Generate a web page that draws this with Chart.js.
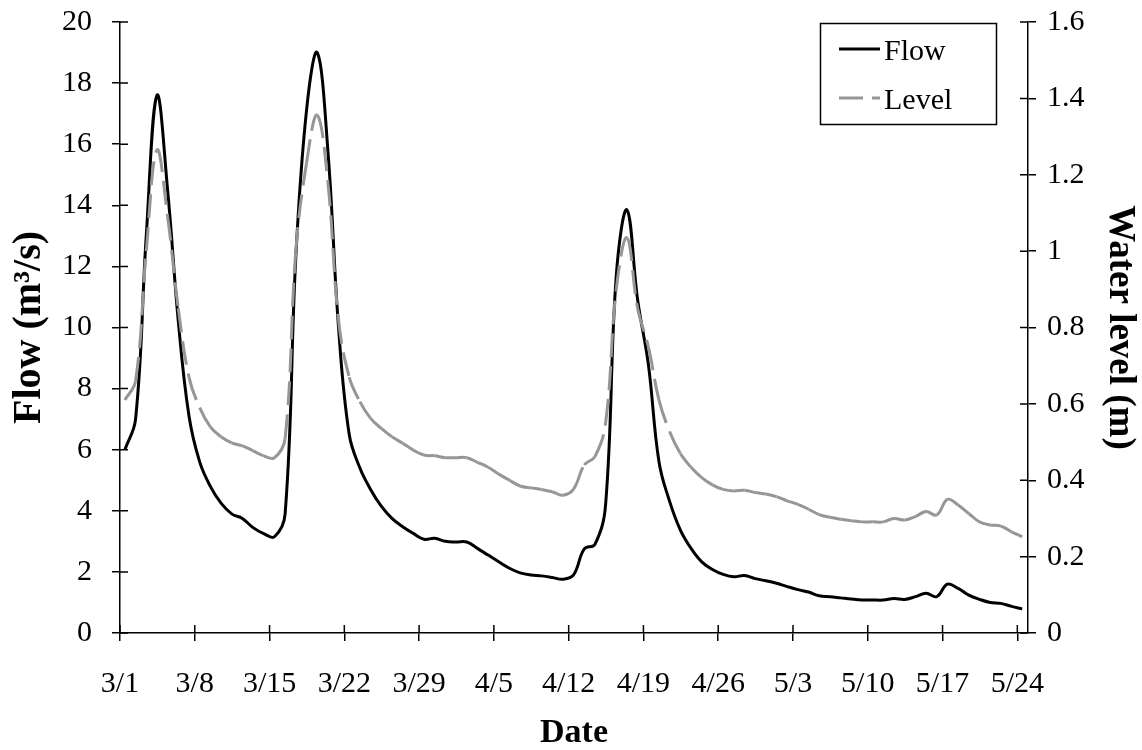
<!DOCTYPE html>
<html>
<head>
<meta charset="utf-8">
<script src="https://cdn.jsdelivr.net/npm/chart.js@4.4.1/dist/chart.umd.min.js"></script>
<style>
body { margin: 0; background: #fff; }
#wrap { width: 1142px; height: 750px; position: relative; }
</style>
</head>
<body>
<div id="wrap"><canvas id="chart"></canvas></div>
<script>
/* ---------- data ---------- */
// daily readings 3/1 .. 5/24, taken late morning
const sampleHour = 11;
const tickLabels = ["3/1","3/8","3/15","3/22","3/29","4/5","4/12","4/19","4/26","5/3","5/10","5/17","5/24"];

// flow (m3/s)
const flow = [
  6.0, 7.0, 13.0, 17.6, 14.5, 10.2, 7.1, 5.6, 4.8, 4.25,
  3.9, 3.75, 3.45, 3.25, 3.15, 3.9, 12.3, 17.1, 19.0, 15.8,
  10.0, 6.5, 5.4, 4.7, 4.15, 3.75, 3.48, 3.26, 3.07, 3.1,
  3.0, 2.98, 2.98, 2.77, 2.55, 2.33, 2.12, 1.97, 1.9, 1.87,
  1.82, 1.76, 1.9, 2.75, 2.9, 4.2, 11.7, 13.85, 10.9, 8.8,
  5.6, 4.3, 3.37, 2.77, 2.33, 2.08, 1.92, 1.84, 1.88, 1.78,
  1.71, 1.63, 1.52, 1.42, 1.34, 1.22, 1.19, 1.15, 1.11, 1.08,
  1.08, 1.08, 1.13, 1.1, 1.19, 1.3, 1.19, 1.6, 1.46, 1.24,
  1.1, 1.0, 0.97, 0.87, 0.79
];

// water level (m)
const level = [
  0.61, 0.66, 1.0, 1.265, 1.09, 0.85, 0.67, 0.59, 0.54, 0.514,
  0.498, 0.49, 0.477, 0.464, 0.459, 0.51, 1.0, 1.23, 1.356, 1.18,
  0.82, 0.67, 0.606, 0.562, 0.536, 0.514, 0.497, 0.479, 0.466, 0.464,
  0.459, 0.459, 0.459, 0.447, 0.434, 0.416, 0.4, 0.385, 0.38, 0.376,
  0.37, 0.361, 0.377, 0.44, 0.462, 0.55, 0.9, 1.035, 0.85, 0.75,
  0.61, 0.527, 0.47, 0.434, 0.407, 0.388, 0.376, 0.372, 0.374, 0.368,
  0.364, 0.357, 0.346, 0.337, 0.324, 0.31, 0.303, 0.298, 0.294, 0.291,
  0.291, 0.291, 0.3, 0.296, 0.305, 0.318, 0.309, 0.35, 0.335, 0.313,
  0.291, 0.283, 0.28, 0.265, 0.252
];

/* ---------- helpers ---------- */
const serif = "'Liberation Serif', 'Times New Roman', serif";
const toPoints = arr => arr.map((v, i) => ({ x: i + sampleHour / 24, y: v }));
const levelDash = [24, 9];

/* fixed axis boxes so the plot area sits where the original does */
const fixWidth = w => sc => { sc.width = w; sc.paddingTop = 0; sc.paddingBottom = 0; };

/* ticks crossing the axis + legend box */
const extras = {
  id: "extras",
  afterDraw(chart) {
    const ctx = chart.ctx;
    const a = chart.chartArea;
    const s = chart.scales;
    ctx.save();
    ctx.strokeStyle = "#000";
    ctx.lineWidth = 1.5;
    ctx.beginPath();
    s.x.ticks.forEach(t => {
      const px = s.x.getPixelForValue(t.value);
      ctx.moveTo(px, a.bottom);
      ctx.lineTo(px, a.bottom - 8);
    });
    s.y.ticks.forEach(t => {
      const py = s.y.getPixelForValue(t.value);
      ctx.moveTo(a.left, py);
      ctx.lineTo(a.left + 8, py);
    });
    s.y1.ticks.forEach(t => {
      const py = s.y1.getPixelForValue(t.value);
      ctx.moveTo(a.right, py);
      ctx.lineTo(a.right - 8, py);
    });
    ctx.stroke();

    // legend
    const bx = 820, by = 23, bw = 176, bh = 101;
    ctx.fillStyle = "#fff";
    ctx.fillRect(bx, by, bw, bh);
    ctx.strokeRect(bx + 0.5, by + 0.5, bw, bh);
    const rows = [chart.data.datasets[1], chart.data.datasets[0]];
    ctx.font = "30px " + serif;
    ctx.textBaseline = "middle";
    rows.forEach((ds, i) => {
      const y = by + 26 + i * 49;
      ctx.beginPath();
      ctx.strokeStyle = ds.borderColor;
      ctx.lineWidth = ds.borderWidth;
      ctx.setLineDash(ds.borderDash || []);
      ctx.moveTo(839, y);
      ctx.lineTo(880, y);
      ctx.stroke();
      ctx.setLineDash([]);
      ctx.fillStyle = "#000";
      ctx.fillText(ds.label, 884, y + 3);
    });
    ctx.restore();
  }
};

const axisFont = { family: serif, size: 30 };

new Chart(document.getElementById("chart"), {
  type: "line",
  data: {
    datasets: [
      {
        label: "Level",
        data: toPoints(level),
        yAxisID: "y1",
        borderColor: "#969696",
        borderWidth: 3,
        borderDash: levelDash,
        pointRadius: 0,
        tension: 0.4,
        order: 0,
        // restart dash pattern on every segment
        segment: { borderDashOffset: c => (c.p0DataIndex % 2) * 0.01 }
      },
      {
        label: "Flow",
        data: toPoints(flow),
        yAxisID: "y",
        borderColor: "#000",
        borderWidth: 3,
        pointRadius: 0,
        tension: 0.4,
        order: 1
      }
    ]
  },
  options: {
    responsive: true,
    maintainAspectRatio: false,
    animation: false,
    devicePixelRatio: 1,
    layout: { padding: { top: 22, left: 0, right: 0, bottom: 0 } },
    plugins: { legend: { display: false }, tooltip: { enabled: false } },
    scales: {
      x: {
        type: "linear",
        min: 0,
        max: 85,
        afterBuildTicks: sc => { sc.ticks = tickLabels.map((_, i) => ({ value: i * 7 })); },
        afterFit: sc => { sc.height = 117; },
        ticks: {
          color: "#000",
          font: axisFont,
          padding: 25,
          maxRotation: 0,
          autoSkip: false,
          callback: v => tickLabels[Math.round(v / 7)]
        },
        grid: { drawOnChartArea: false, tickLength: 8, color: "#000", lineWidth: 1.5 },
        border: { color: "#000", width: 1.5 },
        title: { display: true, text: "Date", color: "#000", font: { family: serif, size: 34, weight: "bold", lineHeight: 1 }, padding: { top: 0, bottom: 0 } }
      },
      y: {
        position: "left",
        min: 0,
        max: 20,
        afterFit: fixWidth(120),
        ticks: { stepSize: 2, color: "#000", font: axisFont, padding: 20 },
        grid: { drawOnChartArea: false, tickLength: 8, color: "#000", lineWidth: 1.5 },
        border: { color: "#000", width: 1.5 },
        title: { display: true, text: "Flow (m³/s)", color: "#000", font: { family: serif, size: 40, weight: "bold" }, padding: { top: 6, bottom: 0 } }
      },
      y1: {
        position: "right",
        min: 0,
        max: 1.6,
        afterFit: fixWidth(114),
        ticks: { stepSize: 0.2, color: "#000", font: axisFont, padding: 11, callback: v => String(+v.toFixed(1)) },
        grid: { drawOnChartArea: false, tickLength: 8, color: "#000", lineWidth: 1.5 },
        border: { color: "#000", width: 1.5 },
        title: { display: true, text: "Water level (m)", color: "#000", font: { family: serif, size: 37, weight: "bold" }, padding: { top: 0, bottom: 0 } }
      }
    }
  },
  plugins: [extras]
});
</script>
</body>
</html>
